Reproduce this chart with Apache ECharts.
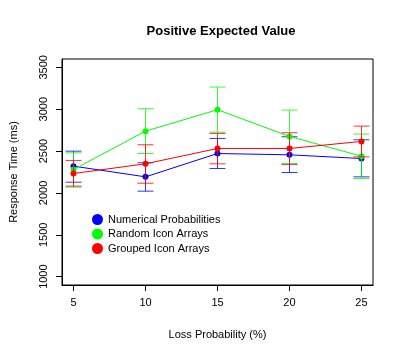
<!DOCTYPE html>
<html><head><meta charset="utf-8">
<script src="https://cdn.jsdelivr.net/npm/echarts@6/dist/echarts.min.js"></script>
<style>html,body{margin:0;padding:0;background:#fff}#c{width:404px;height:359px}</style>
</head><body><div id="c"></div>
<script>
const lossProb = [5, 10, 15, 20, 25];
const numericalMean = [2320, 2192, 2471, 2455, 2411];
const numericalLow  = [2128, 2021, 2292, 2244, 2192];
const numericalHigh = [2499, 2360, 2651, 2671, 2635];
const randomMean = [2280, 2738, 2994, 2675, 2439];
const randomLow  = [2069, 2471, 2726, 2352, 2172];
const randomHigh = [2479, 3006, 3265, 2990, 2703];
const groupedMean = [2232, 2348, 2531, 2531, 2615];
const groupedLow  = [2081, 2116, 2348, 2340, 2431];
const groupedHigh = [2388, 2575, 2711, 2719, 2798];
const yTicks = [1000, 1500, 2000, 2500, 3000, 3500];
const xTicks = [5, 10, 15, 20, 25];
const seriesNames = ['Numerical Probabilities', 'Random Icon Arrays', 'Grouped Icon Arrays'];
const colors = ['#0000ff', '#00ff00', '#ff0000'];

const FONT = 'Liberation Sans, Arial, Helvetica, sans-serif';
const means = [numericalMean, randomMean, groupedMean];
const lows = [numericalLow, randomLow, groupedLow];
const highs = [numericalHigh, randomHigh, groupedHigh];

function errSeries(i) {
  const color = colors[i];
  return {
    type: 'custom',
    name: 'err' + i,
    data: lossProb.map((x, k) => [x, lows[i][k], highs[i][k]]),
    encode: { x: 0, y: [1, 2] },
    z: 3 + i,
    silent: true,
    renderItem: function (params, api) {
      const x = api.value(0), lo = api.value(1), hi = api.value(2);
      const a = api.coord([x, lo]), b = api.coord([x, hi]);
      const w = 8;
      const st = { stroke: color, lineWidth: 1, opacity: 0.8 };
      return {
        type: 'group',
        children: [
          { type: 'line', shape: { x1: a[0], y1: a[1], x2: b[0], y2: b[1] }, style: st },
          { type: 'line', shape: { x1: a[0] - w, y1: a[1], x2: a[0] + w, y2: a[1] }, style: st },
          { type: 'line', shape: { x1: b[0] - w, y1: b[1], x2: b[0] + w, y2: b[1] }, style: st }
        ]
      };
    }
  };
}
function lineSeries(i) {
  return {
    type: 'line',
    name: seriesNames[i],
    data: lossProb.map((x, k) => [x, means[i][k]]),
    symbol: 'circle',
    symbolSize: 6,
    z: 3 + i,
    itemStyle: { color: colors[i] },
    lineStyle: { color: colors[i], width: 1 },
    animation: false
  };
}

const chart = echarts.init(document.getElementById('c'), null, { renderer: 'canvas' });
chart.setOption({
  animation: false,
  backgroundColor: '#fff',
  title: {
    text: 'Positive Expected Value',
    left: 216, top: 20, textAlign: 'center',
    textStyle: { fontFamily: FONT, fontSize: 13, fontWeight: 'bold', color: '#000' }
  },
  grid: { left: 60, right: 31, top: 59, bottom: 74, show: true, borderColor: '#000', borderWidth: 1 },
  legend: {
    data: seriesNames,
    orient: 'vertical',
    left: 87, top: 209,
    icon: 'circle', itemWidth: 11, itemHeight: 11, itemGap: 3.5,
    textStyle: { fontFamily: FONT, fontSize: 11, color: '#000', padding: [0, 0, 0, 0] },
    selectedMode: false
  },
  xAxis: {
    type: 'value', min: 4.2, max: 25.8,
    name: 'Loss Probability (%)', nameLocation: 'middle', nameGap: 44,
    nameTextStyle: { fontFamily: FONT, fontSize: 11, color: '#000' },
    splitLine: { show: false },
    axisLine: { show: true, onZero: false, lineStyle: { color: '#000' } },
    axisTick: { show: true, length: 6, customValues: xTicks, lineStyle: { color: '#000' } },
    axisLabel: { customValues: xTicks, fontFamily: FONT, fontSize: 11, color: '#000', margin: 12 }
  },
  yAxis: {
    type: 'value', min: 900, max: 3600,
    name: 'Response Time (ms)', nameLocation: 'middle', nameGap: 43, nameRotate: 90,
    nameTextStyle: { fontFamily: FONT, fontSize: 11, color: '#000' },
    splitLine: { show: false },
    axisLine: { show: true, onZero: false, lineStyle: { color: '#000' } },
    axisTick: { show: true, length: 6, customValues: yTicks, lineStyle: { color: '#000' } },
    axisLabel: { customValues: yTicks, formatter: v => String(v), rotate: 90, fontFamily: FONT, fontSize: 11, color: '#000', margin: 13 }
  },
  series: [lineSeries(0), errSeries(0), lineSeries(1), errSeries(1), lineSeries(2), errSeries(2)]
});
</script></body></html>
